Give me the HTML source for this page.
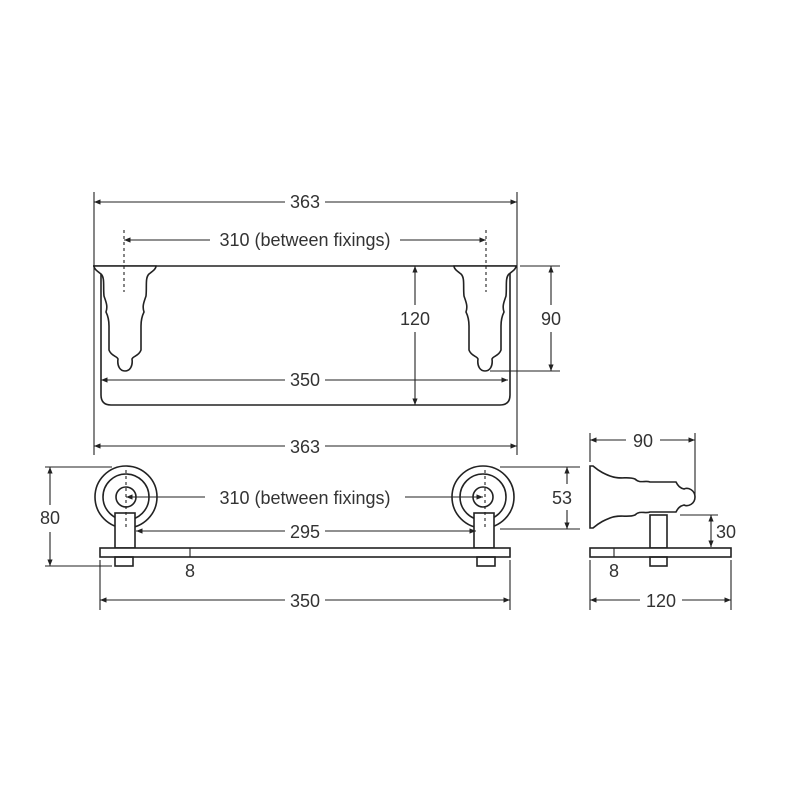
<!DOCTYPE html>
<html><head><style>html,body{margin:0;padding:0;background:#fff}svg{display:block}text{font-family:"Liberation Sans",sans-serif;font-size:18px;fill:#333}</style></head><body>
<svg width="800" height="800" viewBox="0 0 800 800" xmlns="http://www.w3.org/2000/svg">
<defs>
<marker id="a" viewBox="0 0 10 10" refX="10" refY="5" markerWidth="6" markerHeight="6" orient="auto-start-reverse"><path d="M0,1 L10,5 L0,9 z" fill="#222"/></marker>
<g id="brk">
<path d="M-31,0 L31,0 C31,3 28,5 24,8 C20,12 22,20 21,30 C19,36 17,40 19,46 C17,50 16,55 16,60 L16,84 C14,90 8,90 7,93 C8,100 5,105 0,105 C-5,105 -8,100 -7,93 C-8,90 -14,90 -16,84 L-16,60 C-16,55 -17,50 -19,46 C-17,40 -19,36 -21,30 C-22,20 -20,12 -24,8 C-28,5 -31,3 -31,0 Z" fill="#fff" stroke="#222" stroke-width="1.6"/>
</g>
</defs>
<g stroke="#222" stroke-width="1.1" fill="none">
<line x1="94" y1="192" x2="94" y2="455"/><line x1="517" y1="192" x2="517" y2="455"/>
<line x1="94" y1="202" x2="285" y2="202" marker-start="url(#a)"/><line x1="325" y1="202" x2="517" y2="202" marker-end="url(#a)"/>
<line x1="124" y1="240" x2="210" y2="240" marker-start="url(#a)"/><line x1="400" y1="240" x2="486" y2="240" marker-end="url(#a)"/>
<line x1="124" y1="230" x2="124" y2="290" stroke-dasharray="3,3"/><line x1="486" y1="230" x2="486" y2="290" stroke-dasharray="3,3"/>
<path d="M101,272 L101,395 Q101,405 111,405 L500,405 Q510,405 510,395 L510,272" stroke-width="1.6"/>
<path d="M93,266 L517,266" stroke-width="1.6"/>
<line x1="415" y1="266" x2="415" y2="305" marker-start="url(#a)"/><line x1="415" y1="332" x2="415" y2="405" marker-end="url(#a)"/>
<line x1="520" y1="266" x2="560" y2="266"/><line x1="490" y1="371" x2="560" y2="371"/>
<line x1="551" y1="266" x2="551" y2="305" marker-start="url(#a)"/><line x1="551" y1="332" x2="551" y2="371" marker-end="url(#a)"/>
<line x1="101" y1="380" x2="285" y2="380" marker-start="url(#a)"/><line x1="325" y1="380" x2="508" y2="380" marker-end="url(#a)"/>
</g>
<use href="#brk" x="125" y="266"/><use href="#brk" x="485" y="266"/>
<g stroke="#222" stroke-width="1.1" fill="none">
<line x1="124" y1="266" x2="124" y2="292" stroke-dasharray="3,3"/><line x1="486" y1="266" x2="486" y2="292" stroke-dasharray="3,3"/>
</g>
<text x="305" y="208" text-anchor="middle">363</text>
<text x="305" y="246" text-anchor="middle">310 (between fixings)</text>
<text x="415" y="325" text-anchor="middle">120</text>
<text x="551" y="325" text-anchor="middle">90</text>
<text x="305" y="386" text-anchor="middle">350</text>
<g stroke="#222" stroke-width="1.1" fill="none">
<line x1="94" y1="446" x2="285" y2="446" marker-start="url(#a)"/><line x1="325" y1="446" x2="517" y2="446" marker-end="url(#a)"/>
<line x1="45" y1="467" x2="112" y2="467"/><line x1="45" y1="566" x2="112" y2="566"/>
<line x1="50" y1="467" x2="50" y2="505" marker-start="url(#a)"/><line x1="50" y1="532" x2="50" y2="566" marker-end="url(#a)"/>
<line x1="500" y1="467" x2="580" y2="467"/><line x1="500" y1="529" x2="580" y2="529"/>
<line x1="567" y1="467" x2="567" y2="484" marker-start="url(#a)"/><line x1="567" y1="510" x2="567" y2="529" marker-end="url(#a)"/>
<g stroke-width="1.6">
<circle cx="126" cy="497" r="31"/><circle cx="126" cy="497" r="23"/><circle cx="126" cy="497" r="10"/>
<circle cx="483" cy="497" r="31"/><circle cx="483" cy="497" r="23"/><circle cx="483" cy="497" r="10"/>
<rect x="115" y="513" width="20" height="35" fill="#fff"/><rect x="474" y="513" width="20" height="35" fill="#fff"/>
<rect x="100" y="548" width="410" height="9" fill="#fff"/>
<rect x="115" y="557" width="18" height="9"/><rect x="477" y="557" width="18" height="9"/>
</g>
<line x1="126" y1="497" x2="205" y2="497" marker-start="url(#a)"/><line x1="405" y1="497" x2="483" y2="497" marker-end="url(#a)"/>
<line x1="126" y1="470" x2="126" y2="528" stroke-dasharray="3,3"/><line x1="485" y1="470" x2="485" y2="528" stroke-dasharray="3,3"/>
<line x1="136" y1="531" x2="285" y2="531" marker-start="url(#a)"/><line x1="325" y1="531" x2="476" y2="531" marker-end="url(#a)"/>
<line x1="190" y1="548" x2="190" y2="557"/>
<line x1="100" y1="560" x2="100" y2="610"/><line x1="510" y1="560" x2="510" y2="610"/>
<line x1="100" y1="600" x2="285" y2="600" marker-start="url(#a)"/><line x1="325" y1="600" x2="510" y2="600" marker-end="url(#a)"/>
</g>
<text x="305" y="453" text-anchor="middle">363</text>
<text x="305" y="504" text-anchor="middle">310 (between fixings)</text>
<text x="305" y="538" text-anchor="middle">295</text>
<text x="190" y="577" text-anchor="middle">8</text>
<text x="50" y="524" text-anchor="middle">80</text>
<text x="562" y="504" text-anchor="middle">53</text>
<text x="305" y="607" text-anchor="middle">350</text>
<g stroke="#222" stroke-width="1.1" fill="none">
<line x1="590" y1="433" x2="590" y2="462"/><line x1="695" y1="433" x2="695" y2="497"/>
<line x1="590" y1="440" x2="626" y2="440" marker-start="url(#a)"/><line x1="660" y1="440" x2="695" y2="440" marker-end="url(#a)"/>
<path d="M590,466 L590,528 L593,528 C600,522 605,520 610,518 C620,514 628,518 635,515 C640,510 645,514 650,512 L676,512 C678,508 680,506 684,505 C688,507 695,504 695,497 C695,490 688,487 684,489 C680,488 678,486 676,482 L650,482 C645,480 640,484 635,479 C628,476 620,480 610,476 C605,474 600,472 593,466 Z" stroke-width="1.6" fill="#fff"/>
<rect x="650" y="515" width="17" height="33" stroke-width="1.6"/>
<rect x="590" y="548" width="141" height="9" stroke-width="1.6" fill="#fff"/>
<rect x="650" y="557" width="17" height="9" stroke-width="1.6"/>
<line x1="680" y1="515" x2="718" y2="515"/>
<line x1="711" y1="515" x2="711" y2="547" marker-start="url(#a)" marker-end="url(#a)"/>
<line x1="614" y1="548" x2="614" y2="557"/>
<line x1="590" y1="560" x2="590" y2="610"/><line x1="731" y1="560" x2="731" y2="610"/>
<line x1="590" y1="600" x2="640" y2="600" marker-start="url(#a)"/><line x1="682" y1="600" x2="731" y2="600" marker-end="url(#a)"/>
</g>
<text x="643" y="447" text-anchor="middle">90</text>
<text x="726" y="538" text-anchor="middle">30</text>
<text x="614" y="577" text-anchor="middle">8</text>
<text x="661" y="607" text-anchor="middle">120</text>
</svg>
</body></html>
